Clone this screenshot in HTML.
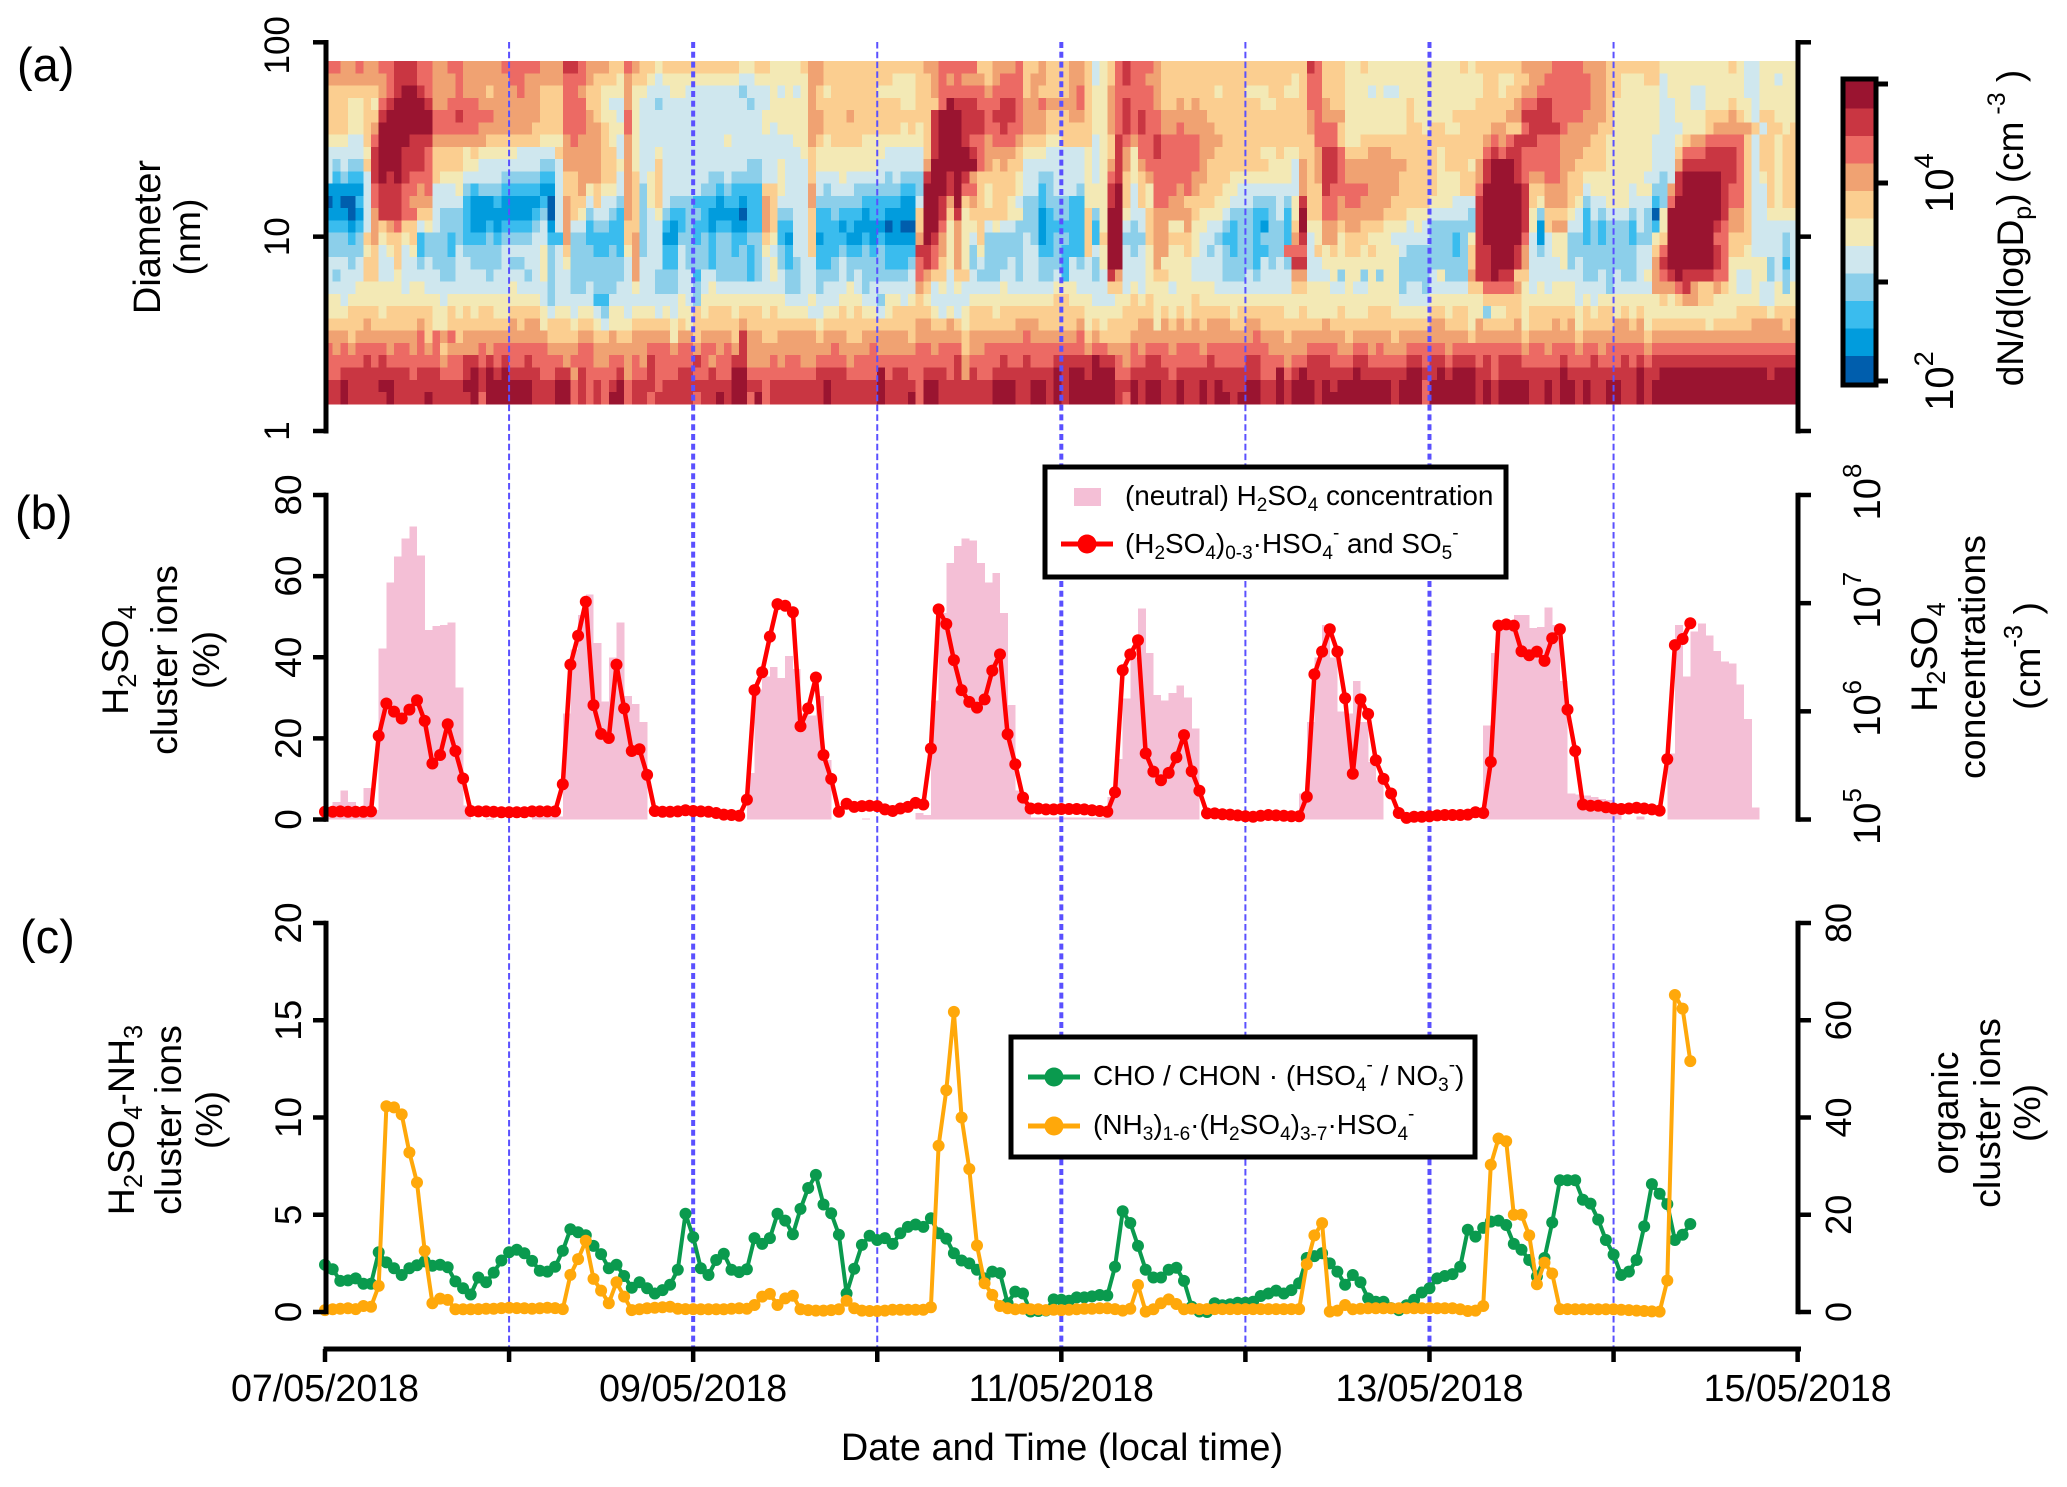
<!DOCTYPE html>
<html lang="en">
<head>
<meta charset="utf-8">
<title>Particle size distribution and cluster ions, 07–15 May 2018</title>
<style>
html,body{margin:0;padding:0;background:#fff;width:2067px;height:1487px;overflow:hidden}
svg{display:block}
text{font-family:"Liberation Sans",Arial,sans-serif;fill:#000}
</style>
</head>
<body>
<svg id="chart" xmlns="http://www.w3.org/2000/svg" width="2067" height="1487" viewBox="0 0 2067 1487">
  <g id="heatLayer" shape-rendering="crispEdges"></g>
  <g id="barLayer" shape-rendering="crispEdges"></g>
  <g id="dashLayer"></g>
  <g id="seriesLayer"></g>
  <g id="axisLayer"></g>

  <g>
    <text x="17" y="81" font-size="47">(a)</text>
    <text x="15" y="529" font-size="47">(b)</text>
    <text x="20" y="953" font-size="47">(c)</text>
  </g>

  <g>
    <text transform="translate(160,237) rotate(-90)" text-anchor="middle" font-size="38">Diameter</text>
    <text transform="translate(200,237) rotate(-90)" text-anchor="middle" font-size="37.5">(nm)</text>

    <text transform="translate(128,660) rotate(-90)" text-anchor="middle" font-size="37.5">H<tspan font-size="25.5" dy="8">2</tspan><tspan dy="-8">SO</tspan><tspan font-size="25.5" dy="8">4</tspan></text>
    <text transform="translate(177,660) rotate(-90)" text-anchor="middle" font-size="37.5">cluster ions</text>
    <text transform="translate(219,660) rotate(-90)" text-anchor="middle" font-size="37.5">(%)</text>

    <text transform="translate(134,1120) rotate(-90)" text-anchor="middle" font-size="37.5">H<tspan font-size="25.5" dy="8">2</tspan><tspan dy="-8">SO</tspan><tspan font-size="25.5" dy="8">4</tspan><tspan dy="-8">-NH</tspan><tspan font-size="25.5" dy="8">3</tspan></text>
    <text transform="translate(181,1120) rotate(-90)" text-anchor="middle" font-size="37.5">cluster ions</text>
    <text transform="translate(222,1120) rotate(-90)" text-anchor="middle" font-size="37.5">(%)</text>

    <text transform="translate(2023,228) rotate(-90)" text-anchor="middle" font-size="37">dN/d(logD<tspan font-size="25" dy="8">p</tspan><tspan dy="-8">) (cm</tspan><tspan font-size="25" dy="-18"> -3</tspan><tspan dy="18"> )</tspan></text>

    <text transform="translate(1937,657) rotate(-90)" text-anchor="middle" font-size="37.5">H<tspan font-size="25.5" dy="8">2</tspan><tspan dy="-8">SO</tspan><tspan font-size="25.5" dy="8">4</tspan></text>
    <text transform="translate(1985,657) rotate(-90)" text-anchor="middle" font-size="37.5">concentrations</text>
    <text transform="translate(2040,656) rotate(-90)" text-anchor="middle" font-size="37.5">(cm<tspan font-size="25.5" dy="-18">-3</tspan><tspan dy="18"> )</tspan></text>

    <text transform="translate(1958,1113) rotate(-90)" text-anchor="middle" font-size="37.5">organic</text>
    <text transform="translate(2000,1113) rotate(-90)" text-anchor="middle" font-size="37.5">cluster ions</text>
    <text transform="translate(2040,1113) rotate(-90)" text-anchor="middle" font-size="37.5">(%)</text>

    <text x="1062" y="1460" text-anchor="middle" font-size="37.9">Date and Time (local time)</text>
  </g>

  <g>
    <rect x="1045" y="467" width="461" height="110" fill="#fff" stroke="#000" stroke-width="5"/>
    <rect x="1074" y="488" width="27" height="18" fill="#f4bfd6"/>
    <text x="1125" y="505" font-size="27.9">(neutral) H<tspan font-size="19" dy="6">2</tspan><tspan dy="-6">SO</tspan><tspan font-size="19" dy="6">4</tspan><tspan dy="-6"> concentration</tspan></text>
    <line x1="1061" y1="544" x2="1113" y2="544" stroke="#fe0000" stroke-width="5"/>
    <circle cx="1087" cy="544" r="9.5" fill="#fe0000"/>
    <text x="1125" y="553" font-size="27.9">(H<tspan font-size="19" dy="6">2</tspan><tspan dy="-6">SO</tspan><tspan font-size="19" dy="6">4</tspan><tspan dy="-6">)</tspan><tspan font-size="19" dy="6">0-3</tspan><tspan dy="-6">·HSO</tspan><tspan font-size="19" dy="6">4</tspan><tspan font-size="19" dy="-20">-</tspan><tspan dy="14"> and SO</tspan><tspan font-size="19" dy="6">5</tspan><tspan font-size="19" dy="-20">-</tspan></text>
  </g>

  <g>
    <rect x="1011" y="1037" width="464" height="120" fill="#fff" stroke="#000" stroke-width="5"/>
    <line x1="1028" y1="1077" x2="1080" y2="1077" stroke="#0a9a4e" stroke-width="5"/>
    <circle cx="1054" cy="1077" r="9.5" fill="#0a9a4e"/>
    <text x="1093" y="1085" font-size="28">CHO / CHON · (HSO<tspan font-size="19" dy="6">4</tspan><tspan font-size="19" dy="-20">-</tspan><tspan dy="14"> / NO</tspan><tspan font-size="19" dy="6">3</tspan><tspan font-size="19" dy="-20">-</tspan><tspan dy="14">)</tspan></text>
    <line x1="1028" y1="1126" x2="1080" y2="1126" stroke="#ffa80a" stroke-width="5"/>
    <circle cx="1054" cy="1126" r="9.5" fill="#ffa80a"/>
    <text x="1093" y="1134" font-size="28">(NH<tspan font-size="19" dy="6">3</tspan><tspan dy="-6">)</tspan><tspan font-size="19" dy="6">1-6</tspan><tspan dy="-6">·(H</tspan><tspan font-size="19" dy="6">2</tspan><tspan dy="-6">SO</tspan><tspan font-size="19" dy="6">4</tspan><tspan dy="-6">)</tspan><tspan font-size="19" dy="6">3-7</tspan><tspan dy="-6">·HSO</tspan><tspan font-size="19" dy="6">4</tspan><tspan font-size="19" dy="-20">-</tspan></text>
  </g>

  <g id="colorbarLayer"></g>
</svg>

<script>
// ---- chart data ----
const levelCodes = "NDBSPYLOCRA";
const levelColors = ["#005ead","#019cdd","#3abcee","#8ccfea","#cfe7ee","#f3e9b5","#fbce90","#f0a272","#ec6a64","#c93642","#9a1430"];

// Size-distribution bins per hour, top row = largest diameter; three 64-hour blocks per row.
const heatmapRows = [
["C2O2C1O2C2R3C2O2C2O5C5O3R2C1O3L2C1O1L2Y1L10Y2L2Y4L1O1","O1L13O2C5L2O3C1L2O1L3O2L1P1Y1L1C1R1C3O1L19","R1C1L3Y2L1Y12L1Y1L6O4C4O3L2L5Y9L1Y1P2Y5"],
["O8C1R3C2O3C1O6C2O5C3O1L3Y1O1L2Y1P1Y10P2Y7O1","O1L9Y3L2O1C1O1C1O3L1O1C3L1O1O1L3O2L1P1Y1L1C1R1C2O2L17Y1L1","C2L3Y18L2Y2L2O2C6O2L2Y3L2P1Y10P2Y2P1Y2"],
["L7O1C1R1A2R1C1O3C1O3L1O3C1O2L3C2O1L2Y3O1Y2P3Y2P7S1P3Y1P1Y1P1Y1O1","L1Y1L6Y5L2O1C6O1C4L1O1L1L3O1C1L1Y2O1C5O1L7Y1L3Y3L2Y2L1","C2L3Y3P1Y1P2Y11L2Y1L2O2C7O2L2Y5P1Y3P2Y5P2Y5"],
["L3Y2L1Y1C1R1A4R1O2C4O8L3C3L2Y1P2O1Y1P2S1P11S1P2Y5O1","L11Y2L3C1A1R3C3R2C1O2C1O3O1C1L1Y2O1C1R1C3O1L2O1L1O1L8Y2L4","C2O1L2Y8L1Y8L5O1C2R2C5O2L1Y6P2Y2P2Y3L1Y2P1Y5"],
["L3Y2L2R1A6C3R1C4O6L3C3O1L1Y2P1C1Y1P16Y6O1","O1L3O1L10R1A3R3C1R3C1O3L3O2L1Y2O1C1R1C1R1C2O6L13","O1C1O3Y8L1Y5L7O2R4C4O3L1Y6P2Y4L3O1L1Y1P1L2Y3"],
["L3Y2L1O1A7C6O7L4C3O2L1Y2C1Y1P16Y1P1Y4O1","O1L10Y1L1Y1L1R1A3R3C2R1C2O3L6Y2O1C1R1C1R1C2O2C1O4L12","O1C3L1Y8L2Y1L2Y2L4O2L2C1R4C1O4L2Y6P3Y3L1O5L1P1L2Y1L1"],
["Y3P2L1C1A4R3O7L7Y3O1C1O3L1Y1P1O1Y1P11Y1P8Y2O1","L1Y1L4Y8L1R1A3R1C2O1C3O1L3Y2L4P1Y1L1R1C1O1C2R1C5O3L11","L1C3L1Y2L16O1C1O1C1R3C3O4L2Y6P3Y1L1O2C5L1P1L2Y1L2"],
["P5Y1R1A3R3C1L4Y1L1Y5P5L1O5L2P1O1Y1P2Y1P18Y1L1","Y9P5L1R1A4R1C1O1O3L1Y3P5Y1P1Y1L1R1O1Y1C2R1C5O2L6Y2L1Y2L1","L1O1R2C1L3O3L6Y1L5C1R1C1R2C5O3L3Y6P3L1C3R4C1L1P1L2Y1L2"],
["P1S1P1S2L1R1A3R3C1L4Y2P8S2P1O5L2Y1O1Y1P2L1P11S2P2Y1P3L1","Y8P6O1A6C1O1L1O1L2P8Y1P1Y1O1R1O1Y1O1C7O1L8Y3P1O1","L1O1R2C1O8L4Y1L3Y1O1R1A3R1C5O2L4Y6P3O1R7C1L1P1L2Y1L2"],
["P1B1S1B2P1R1A1R1A1R1C3L1Y3P5S5B2P1L2O3L2P1O1L1P1Y1L1P6S2P1S4P2Y1P3L1","P3Y1P5S1P1S3R1A2R1A1R1O1L5Y1P2S2P4Y1P1Y1C1R1L1Y1L1O1C5O2L3Y3Y5P1O1","L1O1R2C1O7L5Y3L2O1R1A3R1C1O2C2O1L2Y8P2S1P1R1A5R2C1L1P1Y1L1Y1L2"],
["D5P1C1R3C2O1C1P3Y1S1B1S3B5D2P1L2O1Y1L1Y2P1O1L1S1Y1L1P5S2B1S1B4L2Y1P3O1","P1S1P3S6B2S1A3R1A1C2L1Y1L3Y1P2B1S1P3S1Y1Y2R1A1L1P1L1Y1C3O1C1O1L3Y2P7P1O1","L2R1C5O4L5Y3L2C1A5R1L2O3L2P1Y5P1Y2S2O1R1A5R1C2L1P2L1Y1L2"],
["N1D1N2B1P1C1R3C1O3P4B1D3B1D5B1N1P1O1L2P1L1P2S1O1L1S1Y1L1P1S3B3D1B2D1B2O1L1P4O1","S6B5D2P1A2R1O1A1L1O1L1Y1L2Y1P1S2B1S3B2Y1Y2R1A1L1P1L1Y1C2O2L2L2Y2P3S3P1S1Y1R1","L2C2O1C2O4L5Y3P3R1A5R1L1Y1O3L1Y1S1P2Y3P3B1S1C1A6R1C2L1P2L1Y1L2"],
["D3N1D1P1O1R3C2L2P1S3B1D8B1S1N1P1O1L1Y1S1P2S1B1O1L1S1P1Y1S1B2S2B1D4N1B2O1L1S2P2L1","B2S1B3D1B2D4L1A2R1L1R1Y1L2L3Y2S2D1B1S2B2L1S1Y1A2Y1P2L1O2O3L1Y3P1S2S1B2S1P1B1Y1A1","L2C2O6L3Y3P5S1R1A5R1Y1S1L3Y1P1B1P1S1P3S1P1S1N1Y1A7R1O2L1P2Y2Y2"],
["B3D1B1P1O1L1O1C1L2P1Y1P1S3B1D2B1D1B4S1P1D1P1O1P2B1S2B2L2S1P2B1D1B1S1B2D1B2D2B2O1L1B2P2L1","B3D1B1D4N1D1N2L1A2C1Y1O1Y2L1P1Y1P2S3D1B5L1B1Y1A2P1S1P1L1O2Y2O1Y2P2S1B1S2B1D1S2B1L1A1","Y2O2L1O2L3Y3P1Y1P1S6R1A5R1Y1D1L1O2P2B1S1B1S3B1P1S1B1Y1A6R1C1O2L1P6"],
["S3B1S1L1O1Y1L2Y1L1B1S3B1S1B3S1B1S4P2B2O1S2B5L1O1S1P2D2S2B1S1B1S2B2S2L1Y1B1D1P2L1","D1B3D2B1D1B1D4O1A1R1O1Y1O1Y1P1L1S5P1S1D1B1S2B2L1B1L1A2S3L1O2L1L2Y1P2S1B1B1S2B1S3B1O1R1","P1Y1O2Y1L3Y3P2P3S3B1S1Y1R1A5C1P1D1P1Y2S2B1S1B1S3B1S2Y1L1A6C2L1L2P4S1P1"],
["S5Y1L1P1Y1L1P1Y1B1S3B1P1S5P5Y1S1P1L1S3B2S1B1Y1O1S1P2B2P1S1S2B1S2B1S1B1S1Y1P1S1B1P2L1","B3S1B2S1B1S1B4R2C1O1Y1O1Y1S1Y1S5P2B2S1B3L1P1Y1A2P1S1P1Y1O2Y2L1Y1P1S1P1S1B1S2B2S2C2","P1L1Y1L1Y1L2Y1L1Y3P1S6B1S1L1R2A3R1O1P1S1P1Y2S9P2L1C1A6R1C1L2Y1P4S1P1"],
["P3S1P1L2P2L1P2S1P1S3P2S4P1S2P2Y1S1P1Y1S7P1O1P3B2P1S3B1S4B1S1P1Y1S1B1S1P2","B2S1P1S5B3S1C1R1C1L1Y1O1Y1S1P1S3P1S1P2S2S1B1P1S1P1S1Y1A2P3Y1O1Y1Y3P4S3S1B1P1S1P1S1R2","P2Y4Y6S9L1R2A3R1O1P4Y1S1P1S7P2O1R1A6R1C1Y1Y4S1P1B1P1"],
["P1S1P3L2P2Y1P5S2P4S1P4S1P1Y1S1P2S7P1O1P2S3P2B1P2S4B1S1P1Y1P1S2P2","S3P1S1P1S1S5P1C1O1L2P1L1L1P1S3P2S1P2S2P1B1P3S1P1R1O1P3Y1L2Y3P4S3P1S1P4O2","P3Y1S1Y2S1Y1S1Y2S4P1Y1S3O1R2A1R2L2P7S2P1S1P1S2P1Y1O1C1R1A1R4C2Y1P2Y2S1P1S1P1"],
["P4Y6P1Y2P11Y1P4S1P2S2P1S3P2Y1P2S3P2S1P1Y1P9S2P2","S1P3Y1P1S1P1P5O1L1P1Y1P1Y1P5Y1P6Y2Y1P4L2P1Y1P1Y3P1Y4Y1P10L2","Y3P2Y1P2Y3Y1S1P2S1P5L1L1C4O1Y1P1Y1P1Y2Y1P4S1P5O3C1R1O1L2O1L1Y1P2Y1P2Y1S1Y1"],
["Y2P1Y12P1Y12P1S1P5B2P9Y1P1S1Y11P3Y1","P3Y3P2S1Y2P1Y1L1Y1P5Y11L2Y3P3Y2L1Y1L1Y5L1Y14","Y12P4Y7L5Y7P1Y1P1Y8L1Y1L1O2L2Y6P2Y3"],
["Y3L4Y1L6Y2L1Y1L1Y1L2Y2L4Y1P1Y2P1Y2P1S1Y2P1Y3P1Y1P1Y2L1Y1L3Y1L3Y1L1Y4P1","P1Y2L1Y1L1Y2P1Y1L5Y1P1Y1P1Y1L3Y1L11Y5L4Y1L1Y1L1Y1L5Y1L6Y2L1","Y4L1Y3L3Y5L2Y1L2Y2S1Y2L2Y1L6Y1L1Y1L2Y1L1Y1L1Y6Y6L4Y1L3"],
["L5O1L6O1L1Y2L8O1L1O2Y1L3Y1L2Y1P1Y3L5Y1L1Y1L6O1L9","Y1L12O2L2O1L1Y1L6O3L5O1Y1L1Y1L2L2O1O1Y1O1L1O1L1O1L1O3L2O2L6","L2O1L13O2L3Y1O1L4O1Y1L3O1L1O1Y1L4O2L1O1Y1L7Y1L5O4L1O1"],
["O3L1O8C1L1C1O1C1L1O11L4O2L2O1L2O5Y1O2L1O4L1R1O2L2O5","L1O3L2O6L1O6L1O7C1O6C1L1O1L1L3O16C1O3L1O2","O5L1O5L1O5O4L1O5O1L1O6L1O3O5L1O19"],
["C1O1C1O1C4O1C2O1C1O1C1L1O4C1O1C7O4C2O5O2C3O1C2O1C2O1C1O1R1O9","O2C1O4C1O1O4C2O1C3L1O2C13O1C2O3C1O1C3O1C3O1C3C5O5","C4O2C2O1C1O3C5O1C9O1C2O1C3O1C2O1C5O1C19"],
["C5R1C1R1C7O1C2R2C1R1C1R1C2R1C4O1C1C2O2C2O1C1O1R1C3C2R1C1O1C2R2O3C1O1C2O2","C4O1C13R1O1C4R1C2R1C3R2R3A1R2C1O1C2R2C6R1C4R2C3O1C2","R3C3R2C5R2C1R2C1R3C1R1C1R3C5R1C3R1C3R1C1R1C1R19"],
["C2R1R8C1R3C3R1A1R1A1R1A1R4C2R2O1R1C1C3R1O1C2R1C3R2C2R1C2A2C9","R4C4A1C1R2C2R3C1R1O1R1C2R8A1R1A2R1A3C1C1R5C1R4R1R4R2C2A1C1R1A1","R6A1R6A2R2A1R1A3R2C1R8A1R9A1R2A14R1A3"],
["R2A1R4A2R9A2R1A6R3A2C1R1C1R1C1R1A1C1R2R1C1R4R3R2A2R2C1R6","R1A1R6A1R3R1C1A2R7A3R2A2R1A1R1A6R2A1R1A2R2A1R2A1R1A1R3A2R2A1R1A2","A1R1A1R1A7R1A3C1A6R1A1R1A4R2A1R1A2R1A1R2A2R2A1R1A19"],
["R2A1R5A1R4A1R5A1C1A6R3A2C1R1C1R1C1A2C1R2C1R2R3C1R2A1R1A2C1A1C1R6","R1A1R6A1R3A1C1A2R7A3R2A2R1A1R1A6R1C1A1R1A2R2A1R2A1R1A2R1A3R2A1R1A2","A1R1A9R1A3C1A6R1A1R1A4R2A1R1A2R1A1R2A2R2A1R1A19"]
];

// log10 of H2SO4 concentration (cm-3), hourly, one line per day
const h2so4LogConc = [
5.07,5.16,5.27,5.16,5.06,5.29,5.09,6.58,7.19,7.43,7.60,7.71,7.44,6.75,6.79,6.80,6.82,6.22,5.13,5,5,5.01,5,5,
5,5,5,5.03,5.03,5.03,5.03,5.98,6.57,6.89,7.08,6.63,6.09,6.50,6.82,6.14,6.07,5.90,5,5,5,5,5,5,
5,5,5,5,5,5,5,5.43,6.20,6.32,6.41,6.31,6.51,6.39,5.98,5.96,6.14,5.55,5,5,5,5,5.01,5,
5,5,5,5,5,5.06,5.04,6.10,6.91,7.37,7.53,7.60,7.58,7.37,7.19,7.28,6.91,6.06,5.27,5.15,5.02,5.02,5.02,5.02,
5.02,5.02,5.02,5.02,5.02,5.02,5.21,5.56,6.12,6.50,6.95,6.54,6.15,6.10,6.17,6.24,6.13,5.84,5,5,5,5,5,5,
5,5,5,5,5,5,5,5.24,5.90,6.50,6.80,6.50,6.00,5.98,6.28,5.90,5.53,5.36,5,5,5,5,5,5,
5,5,5,5,5,5,5,5.87,6.54,6.75,6.84,6.89,6.89,6.77,6.78,6.96,6.80,6.28,5.24,5.23,5.22,5.21,5.19,5.18,
5.15,5,5,5.03,5,5,5,5.61,6.80,6.32,6.74,6.81,6.70,6.56,6.46,6.44,6.25,5.93,5.11
];

// H2SO4 cluster ions (%), hourly
const sulfuricIons = [
1.9,1.9,2.0,1.9,1.9,1.9,2.0,20.6,28.6,26.6,24.9,27.1,29.4,24.3,13.8,15.9,23.5,16.9,10.1,2.1,2.0,2.0,1.9,1.8,
1.8,1.8,1.8,2.0,2.0,2.0,2.0,8.7,38.2,45.3,53.7,28.2,21.1,20.1,38.2,27.4,16.9,17.3,11.0,2.1,1.9,1.9,2.0,2.3,
2.1,2.0,1.9,1.6,1.2,1.1,0.9,4.9,31.9,36.3,45.1,53.1,52.7,51.1,23.0,27.4,35.0,15.9,10.0,1.9,3.9,3.1,3.3,3.4,
3.3,2.5,2.1,2.7,3.1,4.1,3.7,17.5,51.8,48.2,39.3,31.9,29.0,27.6,29.6,36.7,40.7,21.0,13.6,5.4,2.7,2.7,2.5,2.5,
2.6,2.6,2.6,2.5,2.3,2.1,1.9,6.7,36.8,40.7,44.2,16.3,11.8,9.7,11.5,15.3,20.8,11.9,7.1,1.5,1.5,1.3,1.2,1.0,
0.8,0.7,0.9,1.1,1.0,0.9,0.8,0.8,5.6,35.8,41.4,46.9,41.4,29.9,11.3,29.6,26.0,14.6,10.0,6.4,1.6,0.4,0.7,0.7,
0.8,1.0,1.1,1.1,1.1,1.2,1.8,1.6,14.2,47.8,48.1,47.8,41.5,40.5,41.4,39.1,44.7,46.9,27.1,16.9,3.7,3.4,3.4,3.0,
2.7,2.6,2.7,2.9,2.7,2.5,2.2,14.9,43.0,44.5,48.4
];

// Organic cluster ions (%, right axis of panel c), hourly
const organicIons = [
9.7,8.8,6.4,6.5,6.9,5.8,5.8,12.3,10.2,9.0,7.6,9.0,9.6,10.4,9.5,9.7,9.2,6.3,4.9,3.6,7.1,6.1,8.1,10.6,
12.3,12.8,12.1,10.5,8.5,8.3,9.3,12.6,17.0,16.4,15.8,13.6,11.9,9.0,9.7,7.4,5.0,6.1,4.9,3.8,4.5,5.6,8.7,20.2,
15.4,9.0,7.6,10.7,12.0,8.7,8.2,8.8,15.2,14.0,15.2,20.2,18.8,16.0,21.2,25.5,28.2,22.1,20.3,15.9,3.8,8.9,13.8,15.7,
14.8,15.2,14.0,16.2,17.5,18.0,17.5,19.3,16.2,15.1,12.1,10.6,10.0,8.7,6.9,8.3,8.0,1.8,4.2,3.8,0.1,0.2,0.3,2.6,
2.5,2.3,3.0,3.0,3.2,3.5,3.4,9.3,20.7,18.3,13.6,8.7,7.1,7.1,8.7,9.1,6.4,1.1,0.1,0,1.8,1.4,1.6,1.9,
1.9,2.1,3.3,3.8,4.4,3.8,4.5,5.9,11.1,11.5,12.1,10.0,8.3,5.6,7.6,6.1,2.8,2.1,2.1,0.8,0.4,1.4,2.5,4.0,
4.9,6.9,7.4,7.8,9.3,16.9,15.5,17.3,18.6,18.8,17.9,14.0,12.8,10.7,7.3,11.1,18.4,27.1,27.1,27.1,23.1,22.3,19.0,14.8,
11.8,7.6,8.3,10.7,17.6,26.3,24.3,22.2,14.8,15.9,18.1
];

// H2SO4-NH3 cluster ions (%, left axis of panel c), hourly
const ammoniaIons = [
0.10,0.14,0.17,0.19,0.15,0.31,0.27,1.34,10.58,10.52,10.16,8.2,6.66,3.14,0.45,0.69,0.62,0.14,0.14,0.14,0.15,0.17,0.17,0.2,
0.22,0.2,0.19,0.17,0.19,0.22,0.2,0.15,1.91,2.72,3.66,1.7,1.1,0.45,1.53,0.79,0.1,0.14,0.19,0.22,0.24,0.27,0.17,0.15,
0.15,0.14,0.14,0.14,0.14,0.17,0.19,0.17,0.36,0.79,0.93,0.36,0.7,0.84,0.14,0.1,0.07,0.07,0.1,0.14,0.58,0.19,0.07,0.05,
0.05,0.07,0.12,0.12,0.12,0.12,0.12,0.24,8.55,11.4,15.43,10,7.35,3.42,1.48,0.88,0.31,0.19,0.14,0.17,0.14,0.14,0.1,0.12,
0.1,0.12,0.14,0.17,0.17,0.19,0.19,0.15,0.07,0.17,1.39,0.02,0.14,0.45,0.65,0.41,0.14,0.17,0.15,0.15,0.15,0.15,0.15,0.15,
0.15,0.15,0.15,0.15,0.15,0.15,0.15,0.15,2.46,3.94,4.57,0.02,0.07,0.36,0.14,0.17,0.19,0.19,0.19,0.19,0.19,0.19,0.19,0.19,
0.19,0.19,0.19,0.19,0.14,0.05,0.07,0.31,7.57,8.92,8.78,5.0,5.0,3.94,1.43,2.54,1.98,0.15,0.15,0.14,0.14,0.14,0.14,0.14,
0.14,0.12,0.1,0.07,0.05,0.03,0.02,1.62,16.3,15.6,12.9
];

const dayTicks = [0,1,2,3,4,5,6,7,8];
const dateLabels = {0:"07/05/2018",2:"09/05/2018",4:"11/05/2018",6:"13/05/2018",8:"15/05/2018"};
const diameterTicks = [1,10,100];
const ionsTicks = [0,20,40,60,80];
const concExponents = [5,6,7,8];
const ammoniaTicks = [0,5,10,15,20];
const organicTicks = [0,20,40,60,80];
const colorbarExponents = [2,3,4,5];
const colorbarLabelled = [2,4];

// ---- scales ----
const PLOT_L = 325, HOUR_W = 7.67;
const xHour = h => PLOT_L + h * HOUR_W;
const xDay = d => xHour(d * 24);
const yDiameter = d => 431 - Math.log10(d) * 194.35;
const heatTop = 61, heatRowH = 12.26;
const yHeatRow = r => heatTop + r * heatRowH;
const yIons = v => 819.5 - v * 4.056;
const yConc = lg => 819.5 - (lg - 5) * 108.17;
const yAmmonia = v => 1312 - v * 19.45;
const yOrganic = v => 1312 - v * 4.8625;
const yColorbarExp = e => 381 - (e - 2) * 99;

// ---- helpers ----
const NS = "http://www.w3.org/2000/svg";
function make(parent, tag, attrs) {
  const el = document.createElementNS(NS, tag);
  for (const k in attrs) el.setAttribute(k, attrs[k]);
  parent.appendChild(el);
  return el;
}
const heatLayer = document.getElementById("heatLayer");
const barLayer = document.getElementById("barLayer");
const dashLayer = document.getElementById("dashLayer");
const seriesLayer = document.getElementById("seriesLayer");
const axisLayer = document.getElementById("axisLayer");
const colorbarLayer = document.getElementById("colorbarLayer");

// ---- heatmap ----
heatmapRows.forEach((blocks, r) => {
  blocks.forEach((code, b) => {
    let col = b * 64;
    const end = col + 64;
    let last = 5;
    const re = /([A-Z])(\d+)/g;
    let m;
    const emit = (from, to, lvl) => {
      const el = make(heatLayer, "rect", {
        x: xHour(from).toFixed(2), y: yHeatRow(r).toFixed(2),
        width: (xHour(to) - xHour(from)).toFixed(2), height: heatRowH.toFixed(2),
        fill: levelColors[lvl]
      });
      
      
    };
    while ((m = re.exec(code)) && col < end) {
      const lvl = levelCodes.indexOf(m[1]);
      const to = Math.min(end, col + parseInt(m[2], 10));
      emit(col, to, lvl);
      col = to;
      last = lvl;
    }
    if (col < end) emit(col, end, last);
  });
});

// ---- concentration bars ----
h2so4LogConc.forEach((v, i) => {
  if (v <= 5) return;
  const el = make(barLayer, "rect", {
    x: xHour(i).toFixed(2), y: yConc(v).toFixed(2),
    width: (HOUR_W + 0.2).toFixed(2), height: (yConc(5) - yConc(v)).toFixed(2),
    fill: "#f4bfd6"
  });
  
  
});

// ---- day gridlines ----
dayTicks.slice(1, -1).forEach(d => {
  const thick = d % 2 === 0;
  const el = make(dashLayer, "line", {
    x1: xDay(d), x2: xDay(d), y1: 42, y2: 1349,
    stroke: "#5a50ff", "stroke-width": thick ? 4 : 2,
    "stroke-dasharray": thick ? "6 3.8" : "6.5 3.3"
  });
  
  
});

// ---- line series ----
function drawSeries(values, yFn, color, lineW, r, name) {
  const pts = values.map((v, i) => xHour(i).toFixed(1) + "," + yFn(v).toFixed(1)).join(" ");
  const line = make(seriesLayer, "polyline", {
    points: pts, fill: "none", stroke: color, "stroke-width": lineW, "stroke-linejoin": "round"
  });
  
  
  values.forEach((v, i) => {
    const c = make(seriesLayer, "circle", { cx: xHour(i).toFixed(1), cy: yFn(v).toFixed(1), r: r, fill: color });
    
    
  });
}
drawSeries(sulfuricIons, yIons, "#fe0000", 4.5, 6, "h2so4-ions");
drawSeries(organicIons, yOrganic, "#0a9a4e", 4, 6, "organic-ions");
drawSeries(ammoniaIons, yAmmonia, "#ffa80a", 4, 6, "ammonia-ions");

// ---- axes ----
function spine(x1, y1, x2, y2, name) {
  const el = make(axisLayer, "line", { x1, y1, x2, y2, stroke: "#000", "stroke-width": 5 });
  
  
}
function tick(x1, y1, x2, y2) {
  const el = make(axisLayer, "line", { x1, y1, x2, y2, stroke: "#000", "stroke-width": 4.5 });
  
  
}
function rotLabel(parent, x, y, size, main, sup) {
  const t = make(parent, "text", {
    transform: "translate(" + x + "," + y.toFixed(1) + ") rotate(-90)",
    "text-anchor": "middle", "font-size": size
  });
  
  
  t.textContent = main;
  if (sup !== undefined) {
    const s = make(t, "tspan", { "font-size": size * 0.68, dy: -size * 0.5 });
    s.textContent = sup;
  }
}
// left/right axes, panel a
spine(326, 40, 326, 433.5, "diameter-axis-left");
spine(1798, 40, 1798, 433.5, "diameter-axis-right");
diameterTicks.forEach(d => {
  tick(313, yDiameter(d), 326, yDiameter(d));
  tick(1798, yDiameter(d), 1811, yDiameter(d));
  rotLabel(axisLayer, 289, yDiameter(d) + (d === 100 ? 3 : 0), 35, String(d));
});
// panel b
spine(326, yIons(80) - 2.3, 326, yIons(0) + 2.3, "h2so4-ions-axis");
spine(1798, yConc(8) - 2.3, 1798, yConc(5) + 2.3, "h2so4-concentration-axis");
ionsTicks.forEach(v => {
  tick(313, yIons(v), 326, yIons(v));
  rotLabel(axisLayer, 301, yIons(v), 37, String(v));
});
concExponents.forEach(e => {
  tick(1798, yConc(e), 1811, yConc(e));
  rotLabel(axisLayer, 1880, yConc(e) - 3, 38, "10", String(e));
});
// panel c
spine(326, yAmmonia(20) - 2.3, 326, yAmmonia(0) + 2.3, "ammonia-ions-axis");
spine(1798, yOrganic(80) - 2.3, 1798, yOrganic(0) + 2.3, "organic-ions-axis");
ammoniaTicks.forEach(v => {
  tick(313, yAmmonia(v), 326, yAmmonia(v));
  rotLabel(axisLayer, 301, yAmmonia(v), 37, String(v));
});
organicTicks.forEach(v => {
  tick(1798, yOrganic(v), 1811, yOrganic(v));
  rotLabel(axisLayer, 1851, yOrganic(v), 36, String(v));
});
// x axis
spine(323.5, 1349, 1801, 1349, "time-axis");
dayTicks.forEach(d => {
  tick(xDay(d), 1349, xDay(d), 1362);
  if (dateLabels[d]) {
    const t = make(axisLayer, "text", { x: xDay(d), y: 1401, "text-anchor": "middle", "font-size": 37.6 });
    
    
    t.textContent = dateLabels[d];
  }
});

// ---- colorbar ----
const cbTop = 81, cbStep = 27.5;
levelColors.slice().reverse().forEach((c, i) => {
  const el = make(colorbarLayer, "rect", { x: 1843, y: (cbTop + i * cbStep).toFixed(1), width: 33, height: (cbStep + 0.3).toFixed(1), fill: c });
  
  
});
const cbFrame = make(colorbarLayer, "rect", { x: 1843, y: 79, width: 33, height: 306, fill: "none", stroke: "#000", "stroke-width": 5 });


colorbarExponents.forEach(e => {
  const tk = make(colorbarLayer, "line", { x1: 1876, x2: 1888, y1: yColorbarExp(e), y2: yColorbarExp(e), stroke: "#000", "stroke-width": 5 });
  
  
});
colorbarLabelled.forEach(e => {
  rotLabel(colorbarLayer, 1953, yColorbarExp(e), 40, "10", String(e));
});
</script>
</body>
</html>
